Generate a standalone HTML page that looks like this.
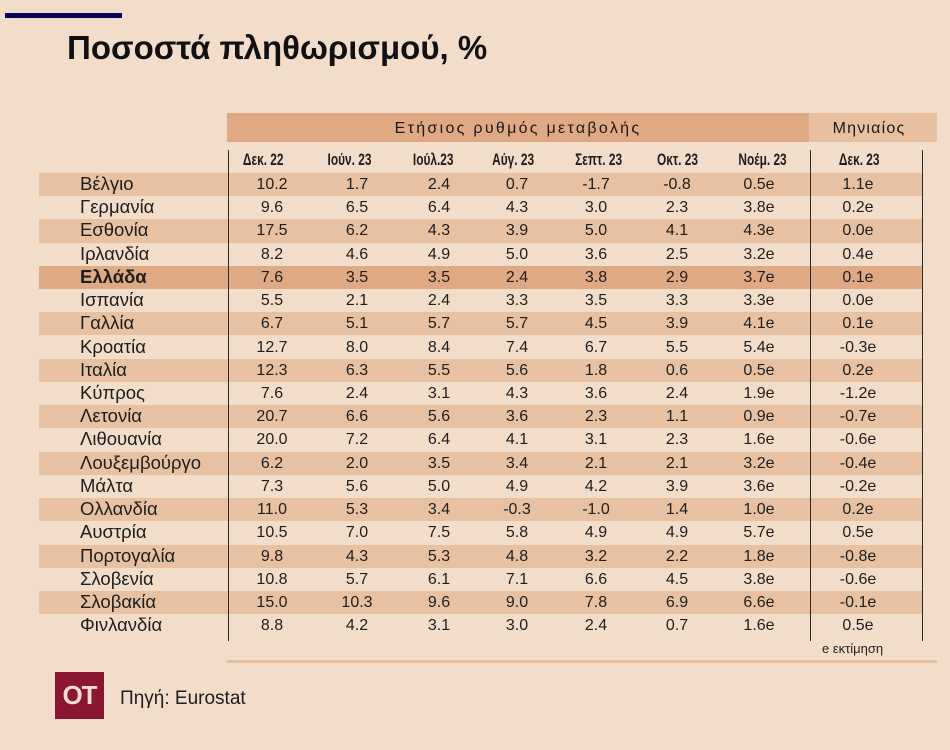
<!DOCTYPE html>
<html><head><meta charset="utf-8">
<style>
*{margin:0;padding:0;box-sizing:border-box}
body{width:950px;height:750px;background:#f2ddca;position:relative;overflow:hidden;font-family:"Liberation Sans","DejaVu Sans",sans-serif;color:#1e1e1e}
.abs{position:absolute}
.navy{left:5px;top:13px;width:117px;height:5px;background:#06065e}
.title{left:67px;top:31px;font-size:33px;line-height:33px;font-weight:bold;color:#111;white-space:nowrap}
.hb1{left:227px;top:113px;width:582px;height:29px;background:#dfa983}
.hb2{left:809px;top:113px;width:128px;height:29px;background:#e8bf9f}
.ht{top:113px;height:29px;line-height:31px;font-size:16px;text-align:center;letter-spacing:2.3px;color:#1a1a1a;white-space:nowrap}
.ch{position:absolute;top:150px;height:20px;line-height:20px;width:100px;text-align:center;font-weight:bold;font-size:16.5px}
.ch b{display:inline-block;transform:scaleX(0.72);white-space:nowrap}
.row{position:absolute;left:39px;width:884px;height:23.2px}
.sh{background:#e8c1a2}
.gr{background:#dfa983}
.row span{position:absolute;top:0;height:23px;line-height:23px;font-size:16px;text-align:center;width:70px;white-space:nowrap}
.row span.c{left:41px;width:auto;text-align:left;font-size:18.5px;line-height:21px}
.row span:nth-child(2){left:198px}
.row span:nth-child(3){left:283px}
.row span:nth-child(4){left:365px}
.row span:nth-child(5){left:443px}
.row span:nth-child(6){left:522px}
.row span:nth-child(7){left:603px}
.row span:nth-child(8){left:685px}
.row span:nth-child(9){left:784px}
.vl{position:absolute;top:150px;width:1px;height:491px;background:#2a2a2a}
.bl{left:227px;top:660px;width:710px;height:3px;background:#e6bf9f}
.note{left:822px;top:641px;font-size:13px;line-height:16px;color:#222;white-space:nowrap}
.logo{left:55px;top:672px;width:49px;height:47px;background:#8a1632;color:#f4dccb;font-weight:bold;font-size:26px;line-height:47px;text-align:center;letter-spacing:-1px}
.src{left:120px;top:688px;font-size:19px;line-height:22px;white-space:nowrap;color:#1e1e1e}
</style></head><body>
<div class="abs navy"></div>
<div class="abs title">Ποσοστά πληθωρισμού, %</div>

<div class="abs hb1"></div>
<div class="abs hb2"></div>
<div class="abs ht" style="left:227px;width:582px">Ετήσιος ρυθμός μεταβολής</div>
<div class="abs ht" style="left:805px;width:128px;letter-spacing:1.2px">Μηνιαίος</div>

<div class="ch" style="left:213px"><b>Δεκ. 22</b></div>
<div class="ch" style="left:299px"><b>Ιούν. 23</b></div>
<div class="ch" style="left:383px"><b>Ιούλ.23</b></div>
<div class="ch" style="left:463px"><b>Αύγ. 23</b></div>
<div class="ch" style="left:549px"><b>Σεπτ. 23</b></div>
<div class="ch" style="left:627px"><b>Οκτ. 23</b></div>
<div class="ch" style="left:713px"><b>Νοέμ. 23</b></div>
<div class="ch" style="left:809px"><b>Δεκ. 23</b></div>

<div class="row sh" style="top:173px"><span class="c">Βέλγιο</span><span>10.2</span><span>1.7</span><span>2.4</span><span>0.7</span><span>-1.7</span><span>-0.8</span><span>0.5e</span><span>1.1e</span></div>
<div class="row" style="top:196.2px"><span class="c">Γερμανία</span><span>9.6</span><span>6.5</span><span>6.4</span><span>4.3</span><span>3.0</span><span>2.3</span><span>3.8e</span><span>0.2e</span></div>
<div class="row sh" style="top:219.4px"><span class="c">Εσθονία</span><span>17.5</span><span>6.2</span><span>4.3</span><span>3.9</span><span>5.0</span><span>4.1</span><span>4.3e</span><span>0.0e</span></div>
<div class="row" style="top:242.7px"><span class="c">Ιρλανδία</span><span>8.2</span><span>4.6</span><span>4.9</span><span>5.0</span><span>3.6</span><span>2.5</span><span>3.2e</span><span>0.4e</span></div>
<div class="row gr" style="top:265.9px"><span class="c" style="font-weight:bold">Ελλάδα</span><span>7.6</span><span>3.5</span><span>3.5</span><span>2.4</span><span>3.8</span><span>2.9</span><span>3.7e</span><span>0.1e</span></div>
<div class="row" style="top:289.1px"><span class="c">Ισπανία</span><span>5.5</span><span>2.1</span><span>2.4</span><span>3.3</span><span>3.5</span><span>3.3</span><span>3.3e</span><span>0.0e</span></div>
<div class="row sh" style="top:312.3px"><span class="c">Γαλλία</span><span>6.7</span><span>5.1</span><span>5.7</span><span>5.7</span><span>4.5</span><span>3.9</span><span>4.1e</span><span>0.1e</span></div>
<div class="row" style="top:335.5px"><span class="c">Κροατία</span><span>12.7</span><span>8.0</span><span>8.4</span><span>7.4</span><span>6.7</span><span>5.5</span><span>5.4e</span><span>-0.3e</span></div>
<div class="row sh" style="top:358.8px"><span class="c">Ιταλία</span><span>12.3</span><span>6.3</span><span>5.5</span><span>5.6</span><span>1.8</span><span>0.6</span><span>0.5e</span><span>0.2e</span></div>
<div class="row" style="top:382px"><span class="c">Κύπρος</span><span>7.6</span><span>2.4</span><span>3.1</span><span>4.3</span><span>3.6</span><span>2.4</span><span>1.9e</span><span>-1.2e</span></div>
<div class="row sh" style="top:405.2px"><span class="c">Λετονία</span><span>20.7</span><span>6.6</span><span>5.6</span><span>3.6</span><span>2.3</span><span>1.1</span><span>0.9e</span><span>-0.7e</span></div>
<div class="row" style="top:428.4px"><span class="c">Λιθουανία</span><span>20.0</span><span>7.2</span><span>6.4</span><span>4.1</span><span>3.1</span><span>2.3</span><span>1.6e</span><span>-0.6e</span></div>
<div class="row sh" style="top:451.6px"><span class="c">Λουξεμβούργο</span><span>6.2</span><span>2.0</span><span>3.5</span><span>3.4</span><span>2.1</span><span>2.1</span><span>3.2e</span><span>-0.4e</span></div>
<div class="row" style="top:474.9px"><span class="c">Μάλτα</span><span>7.3</span><span>5.6</span><span>5.0</span><span>4.9</span><span>4.2</span><span>3.9</span><span>3.6e</span><span>-0.2e</span></div>
<div class="row sh" style="top:498.1px"><span class="c">Ολλανδία</span><span>11.0</span><span>5.3</span><span>3.4</span><span>-0.3</span><span>-1.0</span><span>1.4</span><span>1.0e</span><span>0.2e</span></div>
<div class="row" style="top:521.3px"><span class="c">Αυστρία</span><span>10.5</span><span>7.0</span><span>7.5</span><span>5.8</span><span>4.9</span><span>4.9</span><span>5.7e</span><span>0.5e</span></div>
<div class="row sh" style="top:544.5px"><span class="c">Πορτογαλία</span><span>9.8</span><span>4.3</span><span>5.3</span><span>4.8</span><span>3.2</span><span>2.2</span><span>1.8e</span><span>-0.8e</span></div>
<div class="row" style="top:567.7px"><span class="c">Σλοβενία</span><span>10.8</span><span>5.7</span><span>6.1</span><span>7.1</span><span>6.6</span><span>4.5</span><span>3.8e</span><span>-0.6e</span></div>
<div class="row sh" style="top:591px"><span class="c">Σλοβακία</span><span>15.0</span><span>10.3</span><span>9.6</span><span>9.0</span><span>7.8</span><span>6.9</span><span>6.6e</span><span>-0.1e</span></div>
<div class="row" style="top:614.2px"><span class="c">Φινλανδία</span><span>8.8</span><span>4.2</span><span>3.1</span><span>3.0</span><span>2.4</span><span>0.7</span><span>1.6e</span><span>0.5e</span></div>

<div class="vl" style="left:228px"></div>
<div class="vl" style="left:810px"></div>
<div class="vl" style="left:922px"></div>

<div class="abs note">e εκτίμηση</div>
<div class="abs bl"></div>

<div class="abs logo">OT</div>
<div class="abs src">Πηγή: Eurostat</div>
</body></html>
